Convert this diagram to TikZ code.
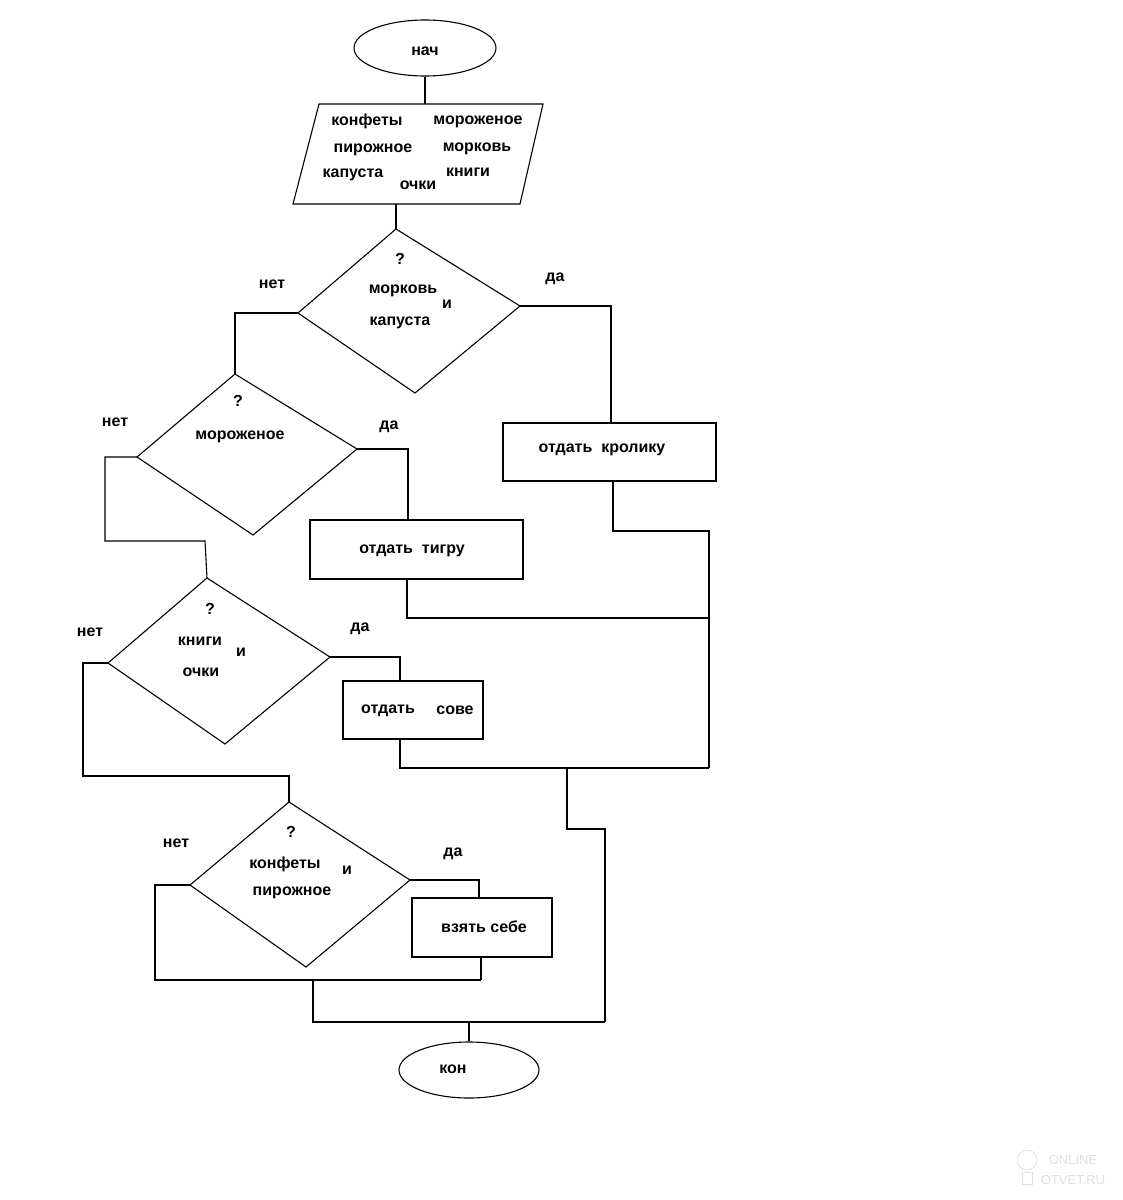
\documentclass[tikz,border=0pt]{standalone}
\usepackage{fontspec}
\setmainfont{Liberation Sans}
\usetikzlibrary{shapes.geometric}
\begin{document}
\begin{tikzpicture}[x=1pt,y=-1pt,line width=1.1pt,
  lbl/.style={font=\bfseries\fontsize{16}{18}\selectfont,inner sep=0pt,yshift=-2.5pt},
  box/.style={draw,rectangle,inner sep=0pt},
  term/.style={draw,ellipse,inner sep=0pt},
  wm/.style={font=\fontsize{13}{14}\selectfont,text=black!12,inner sep=0pt}]
\fill[white] (0,0) rectangle (1123,1200);
\useasboundingbox (0,0) rectangle (1123,1200);

% terminals
\node[term,minimum width=142pt,minimum height=56pt] (start) at (425,48) {};
\node[lbl] (tstart) at (425,49) {нач};
\node[term,minimum width=140pt,minimum height=56pt] (stop) at (469,1070) {};
\node[lbl] (tstop) at (453,1067) {кон};

% input parallelogram
\coordinate (p1) at (319,104);
\coordinate (p2) at (543,104);
\coordinate (p3) at (520,204);
\coordinate (p4) at (293,204);
\draw (p1) -- (p2) -- (p3) -- (p4) -- cycle;
\node[lbl] (i1) at (367,119) {конфеты};
\node[lbl] (i2) at (478,119) {мороженое};
\node[lbl] (i3) at (373,147) {пирожное};
\node[lbl] (i4) at (477,146) {морковь};
\node[lbl] (i5) at (353,172) {капуста};
\node[lbl] (i6) at (418,183) {очки};
\node[lbl] (i7) at (468,170) {книги};
\coordinate (pin) at (425,104);
\coordinate (pout) at (396,204);

% decision 1
\coordinate (d1t) at (396,229);
\coordinate (d1r) at (520,306);
\coordinate (d1b) at (415,393);
\coordinate (d1l) at (298,313);
\draw (d1t) -- (d1r) -- (d1b) -- (d1l) -- cycle;
\node[lbl] (q1) at (400,256) {?};
\node[lbl] (q1a) at (403,288) {морковь};
\node[lbl] (q1b) at (447,302) {и};
\node[lbl] (q1c) at (400,320) {капуста};
\node[lbl] (n1) at (272,282) {нет};
\node[lbl] (y1) at (555,276) {да};

% decision 2
\coordinate (d2t) at (235,374);
\coordinate (d2r) at (357,449);
\coordinate (d2b) at (253,535);
\coordinate (d2l) at (137,457);
\draw (d2t) -- (d2r) -- (d2b) -- (d2l) -- cycle;
\node[lbl] (q2) at (238,398) {?};
\node[lbl] (q2a) at (240,434) {мороженое};
\node[lbl] (n2) at (115,420) {нет};
\node[lbl] (y2) at (389,424) {да};

% decision 3
\coordinate (d3t) at (207,578);
\coordinate (d3r) at (330,657);
\coordinate (d3b) at (225,744);
\coordinate (d3l) at (108,663);
\draw (d3t) -- (d3r) -- (d3b) -- (d3l) -- cycle;
\node[lbl] (q3) at (210,606) {?};
\node[lbl] (q3a) at (200,639) {книги};
\node[lbl] (q3b) at (241,650) {и};
\node[lbl] (q3c) at (201,670) {очки};
\node[lbl] (n3) at (90,630) {нет};
\node[lbl] (y3) at (360,626) {да};

% decision 4
\coordinate (d4t) at (289,802);
\coordinate (d4r) at (410,880);
\coordinate (d4b) at (306,967);
\coordinate (d4l) at (190,885);
\draw (d4t) -- (d4r) -- (d4b) -- (d4l) -- cycle;
\node[lbl] (q4) at (291,829) {?};
\node[lbl] (q4a) at (285,862) {конфеты};
\node[lbl] (q4b) at (347,868) {и};
\node[lbl] (q4c) at (292,890) {пирожное};
\node[lbl] (n4) at (176,841) {нет};
\node[lbl] (y4) at (453,851) {да};

% process boxes
\node[box,minimum width=213pt,minimum height=58pt] (rab) at (609.5,452) {};
\node[lbl] (trab) at (602,447) {отдать\ \ кролику};
\node[box,minimum width=213pt,minimum height=59pt] (tig) at (416.5,549.5) {};
\node[lbl] (ttig) at (412,548) {отдать\ \ тигру};
\node[box,minimum width=140pt,minimum height=58pt] (owl) at (413,710) {};
\node[lbl] (towl1) at (388,708) {отдать};
\node[lbl] (towl2) at (455,708) {сове};
\node[box,minimum width=140pt,minimum height=59pt] (self) at (482,927.5) {};
\node[lbl] (tself) at (484,924) {взять себе};

% junction coordinates
\coordinate (tigin) at (408,520);
\coordinate (tigout) at (407,579);
\coordinate (owlin) at (400,681);
\coordinate (owlout) at (400,739);
\coordinate (selfin) at (479,898);
\coordinate (selfout) at (481,957);
\coordinate (rabout) at (613,481);
\coordinate (jr) at (709,768);
\coordinate (jm) at (567,768);
\coordinate (jl) at (481,980);
\coordinate (jb) at (605,1022);

% connectors
\draw (start.south -| pin) -- (pin);
\draw (pout) -- (d1t);
\draw (d1r) -| (rab.north -| 611,0);
\draw (d1l) -| (d2t);
\draw (d2r) -| (tigin);
\draw (d2l) -- (105,457) |- (205,541) -- (d3t);
\draw (d3r) -| (owlin);
\draw (d3l) -- (83,663) |- (289,776) -- (d4t);
\draw (d4r) -| (selfin);
\draw (d4l) -- (155,885) |- (jl);
\draw (selfout) -- (jl);
\draw (rabout) -- (613,531) -| (jr);
\draw (tigout) |- (709,618);
\draw (owlout) |- (jr);
\draw (jm) -- (567,829) -| (jb);
\draw (313,980) |- (jb);
\draw (stop.north) -- (stop.north |- jb);

% watermark
\node[wm] (wm1) at (1073,1160) {ONLINE};
\node[wm] (wm2) at (1073,1180) {OTVET.RU};
\draw[black!12,line width=0.8pt] (1027,1160) circle (10);
\draw[black!12,line width=0.8pt] (1022,1172) rectangle (1032,1184);
\end{tikzpicture}
\end{document}
